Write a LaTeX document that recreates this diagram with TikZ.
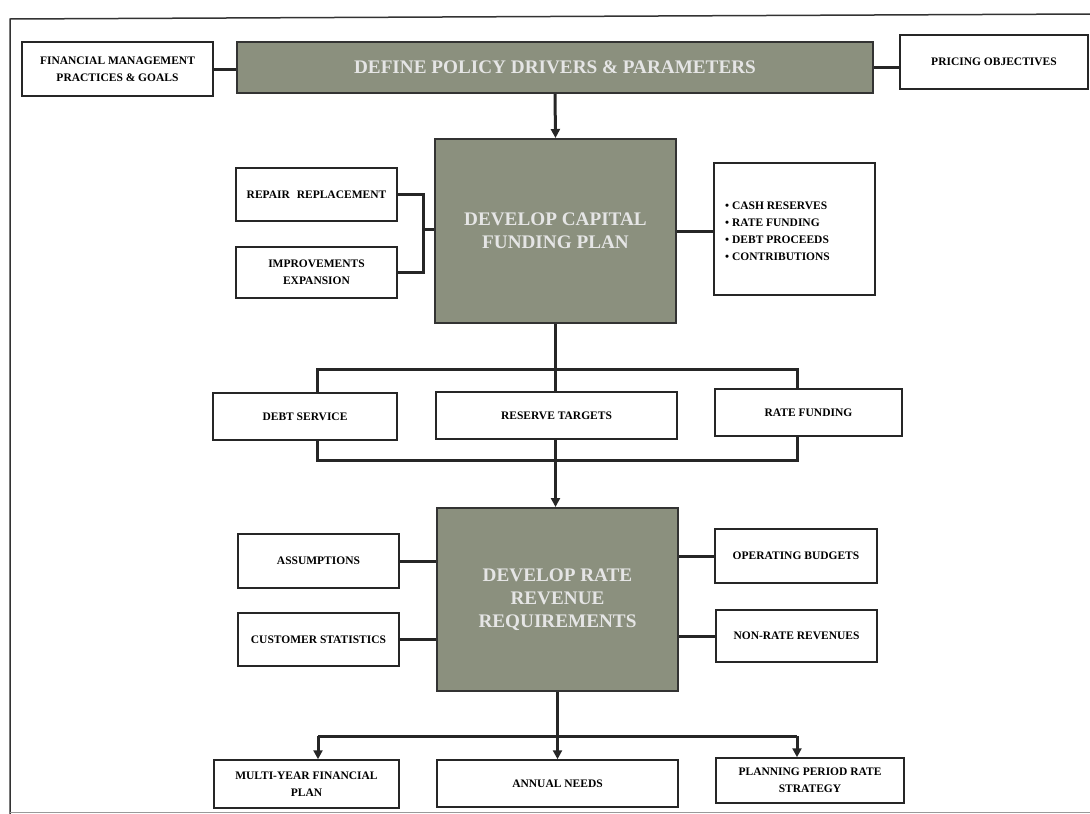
\documentclass[tikz,border=0pt]{standalone}
\usepackage{fontspec}
\setmainfont{Liberation Serif}
\usepackage{xcolor}
\usetikzlibrary{arrows.meta}
\definecolor{panelgrey}{RGB}{139,144,126}

\begin{document}
\begin{tikzpicture}[x=1pt,y=-1pt,
  plainbox/.style={draw=black!85,line width=1.5pt,fill=white,inner sep=0pt,align=center,
    font=\fontsize{11.5}{17}\selectfont\bfseries},
  greybox/.style={draw=black!80,line width=2pt,fill=panelgrey,inner sep=0pt,align=center,
    text=white!90!black,font=\fontsize{19.2}{23}\selectfont\bfseries},
  link/.style={draw=black!85,line width=3pt},
  arrowlink/.style={link,-{Triangle[length=9pt,width=9pt]}}]
\useasboundingbox (0,0) rectangle (1090,814);
\draw[black!80,line width=1.5pt] (1090,14) -- (10,19) -- (10,814);
\draw[black!40,line width=1pt] (10,812) -- (1090,812);

\draw (117.5,69) node[plainbox,minimum width=191pt,minimum height=54pt](finance) {FINANCIAL MANAGEMENT\\PRACTICES \& GOALS};
\draw (555,67.5) node[greybox,minimum width=636pt,minimum height=51pt](policy) {DEFINE POLICY DRIVERS \& PARAMETERS};
\draw (994,62) node[plainbox,minimum width=188pt,minimum height=54pt](pricing) {PRICING OBJECTIVES};

\draw (555.5,231) node[greybox,minimum width=241pt,minimum height=184pt](capital) {DEVELOP CAPITAL\\FUNDING PLAN};
\draw (316.5,194.5) node[plainbox,minimum width=161pt,minimum height=53pt](repair) {REPAIR\hspace{0.6em}REPLACEMENT};
\draw (316.5,272.5) node[plainbox,minimum width=161pt,minimum height=51pt](improve) {IMPROVEMENTS\\EXPANSION};
\draw (794.5,229) node[plainbox,minimum width=161pt,minimum height=132pt](sources) {};
\draw (725,231) node[anchor=west,align=left,inner sep=0pt,font=\fontsize{11.5}{17}\selectfont\bfseries](sourcelist)
  {\textbullet\ CASH RESERVES\\\textbullet\ RATE FUNDING\\\textbullet\ DEBT PROCEEDS\\\textbullet\ CONTRIBUTIONS};

\draw (305,416.5) node[plainbox,minimum width=184pt,minimum height=47pt](debt) {DEBT SERVICE};
\draw (556.5,415.5) node[plainbox,minimum width=241pt,minimum height=47pt](reserve) {RESERVE TARGETS};
\draw (808.5,412.5) node[plainbox,minimum width=187pt,minimum height=47pt](ratefund) {RATE FUNDING};

\draw (557.5,599.5) node[greybox,minimum width=241pt,minimum height=183pt](revenue) {DEVELOP RATE\\REVENUE\\REQUIREMENTS};
\draw (318.5,561) node[plainbox,minimum width=161pt,minimum height=54pt](assume) {ASSUMPTIONS};
\draw (318.5,639.5) node[plainbox,minimum width=161pt,minimum height=53pt](custstat) {CUSTOMER STATISTICS};
\draw (796,556) node[plainbox,minimum width=162pt,minimum height=54pt](opbudget) {OPERATING BUDGETS};
\draw (796.5,636) node[plainbox,minimum width=161pt,minimum height=52pt](nonrate) {NON-RATE REVENUES};

\draw (306.5,784) node[plainbox,minimum width=185pt,minimum height=48pt](multiyear) {MULTI-YEAR FINANCIAL\\PLAN};
\draw (557.5,783.5) node[plainbox,minimum width=241pt,minimum height=47pt](annual) {ANNUAL NEEDS};
\draw (810,780.5) node[plainbox,minimum width=188pt,minimum height=45pt](planning) {PLANNING PERIOD RATE\\STRATEGY};

\coordinate (capjoin) at (423,229);
\coordinate (splittop) at (555.5,369);
\coordinate (topleft) at (317,369);
\coordinate (topright) at (797,369);
\coordinate (splitbot) at (555.5,460);
\coordinate (botleft) at (317,460);
\coordinate (botright) at (797,460);
\coordinate (fanmid) at (557.5,736);
\coordinate (fanleft) at (318,736);
\coordinate (fanright) at (797,736);

\draw[link] (finance.east) -- (finance.east -| policy.west);
\draw[link] (policy.east) -- (policy.east -| pricing.west);
\draw[arrowlink] (policy.south) -- (capital.north);
\draw[link] (repair.east) -| (capjoin) |- (improve.east);
\draw[link] (capjoin) -- (capjoin -| capital.west);
\draw[link] (capital.east) -- (capital.east -| sources.west);

\draw[link] (capital.south) -- (splittop);
\draw[link] (debt.north -| topleft) -- (topleft) -- (topright) -- (ratefund.north -| topright);
\draw[link] (splittop) -- (splittop |- reserve.north);
\draw[link] (debt.south -| botleft) -- (botleft) -- (botright) -- (ratefund.south -| botright);
\draw[link] (splitbot |- reserve.south) -- (splitbot);
\draw[arrowlink] (splitbot) -- (splitbot |- revenue.north);

\draw[link] (assume.east) -- (assume.east -| revenue.west);
\draw[link] (custstat.east) -- (custstat.east -| revenue.west);
\draw[link] (opbudget.west) -- (opbudget.west -| revenue.east);
\draw[link] (nonrate.west) -- (nonrate.west -| revenue.east);

\draw[link] (revenue.south) -- (fanmid);
\draw[link] (fanleft) -- (fanright);
\draw[arrowlink] (fanleft) -- (fanleft |- multiyear.north);
\draw[arrowlink] (fanmid) -- (fanmid |- annual.north);
\draw[arrowlink] (fanright) -- (fanright |- planning.north);
\end{tikzpicture}
\end{document}
